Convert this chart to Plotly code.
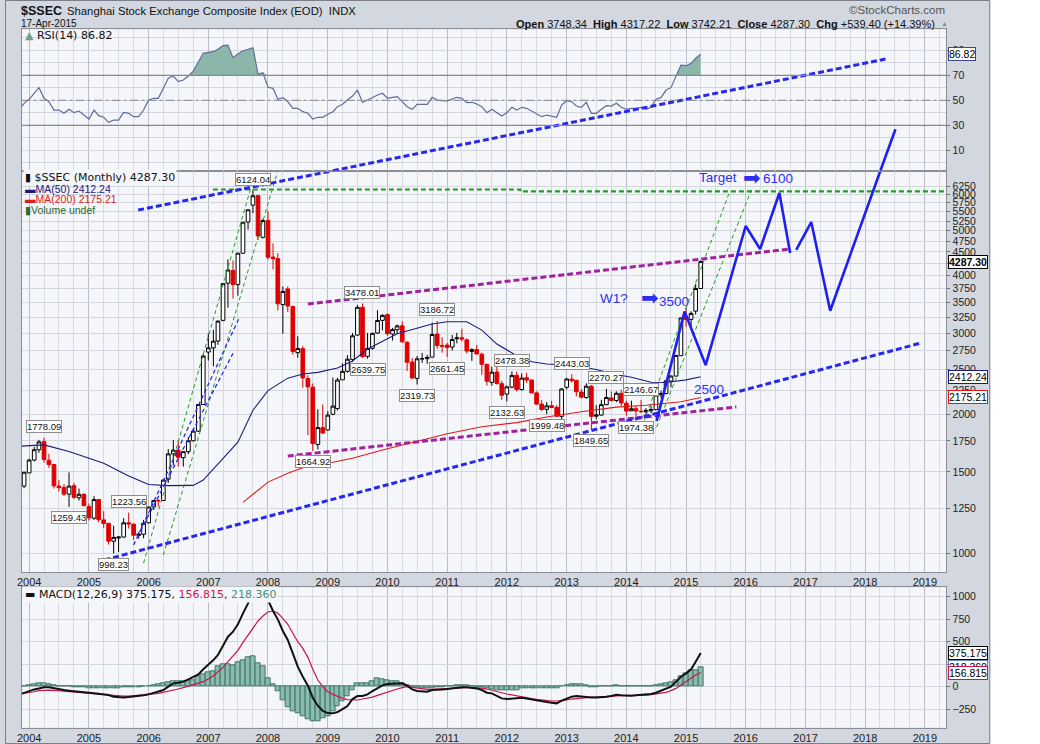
"""
Shanghai Composite ($SSEC) monthly chart in the StockCharts look:
RSI panel on top, candles with MA(50)/MA(200) and hand-drawn trend lines,
MACD panel underneath.
"""

import math

import pandas as pd
import plotly.graph_objects as go

# ---------------------------------------------------------------- data ----
CANDLE_DATES = pd.date_range("2003-12-01", "2015-04-01", freq="MS")
IND_DATES = pd.date_range("2003-11-01", "2015-04-01", freq="MS")

OPEN = [1397,
        1492, 1591, 1675, 1744, 1590, 1556, 1397, 1388, 1342, 1400, 1318, 1340,
        1261, 1190, 1306, 1180, 1160, 1061, 1078, 1083, 1163, 1155, 1092, 1098,
        1163, 1259, 1300, 1300, 1446, 1641, 1672, 1610, 1659, 1752, 1838, 2100,
        2728, 2786, 2883, 3196, 3849, 4102, 3821, 4471, 5224, 5683, 5960, 4840,
        5265, 4385, 4350, 3460, 3740, 3425, 2720, 2775, 2390, 2290, 1720, 1870,
        1849, 2000, 2058, 2375, 2478, 2630, 2970, 3412, 2670, 2780, 3000, 3196,
        3289, 2986, 3050, 3110, 2866, 2595, 2392, 2637, 2640, 2660, 2985, 2820,
        2825, 2798, 2918, 2930, 2900, 2737, 2762, 2700, 2566, 2345, 2470, 2330,
        2212, 2290, 2430, 2263, 2400, 2373, 2225, 2104, 2050, 2087, 2070, 1978,
        2289, 2383, 2370, 2234, 2175, 2300, 1980, 1992, 2098, 2170, 2142, 2220,
        2113, 2034, 2056, 2030, 2025, 2035, 2047, 2203, 2218, 2360, 2420, 2680,
        3258, 3212, 3347, 3748.34]
HIGH = [1500,
        1602, 1700, 1760, 1778.09, 1640, 1560, 1440, 1410, 1496, 1420, 1380, 1350,
        1280, 1328, 1310, 1232, 1160, 1146, 1087, 1190, 1223.56, 1160, 1110, 1180,
        1260, 1304, 1310, 1445, 1680, 1757, 1757, 1660, 1785, 1860, 2100, 2698,
        2995, 3049, 3196, 3848, 4335, 4312, 4472, 5219, 5562, 6124.04, 5980, 5307,
        5523, 4695, 4473, 3786, 3786, 3441, 2952, 2810, 2430, 2333, 2050, 2100,
        2030, 2402, 2400, 2579, 2688, 3000, 3454, 3478.01, 3000, 3006, 3362, 3296,
        3307, 3079, 3132, 3181, 2879, 2649, 2676, 2717, 2692, 3160, 3186.72, 2938,
        2855, 2971, 3003, 3067, 2921, 2780, 2827, 2721, 2574, 2536, 2536, 2363,
        2306, 2478.38, 2476, 2453, 2461, 2377, 2243, 2147, 2126, 2139, 2093, 2277,
        2398, 2443.03, 2370, 2268, 2334, 2315, 2093, 2149, 2270.27, 2242, 2243, 2260,
        2140, 2140, 2086, 2146.67, 2061, 2087, 2209, 2249, 2373, 2430, 2683, 3240,
        3406, 3345, 3835, 4317.22]
LOW = [1383,
       1492, 1580, 1650, 1570, 1530, 1380, 1360, 1330, 1259.43, 1310, 1300, 1262,
       1177, 1180, 1166, 1134, 1043, 998.23, 1005, 1080, 1130, 1067, 1074, 1076,
       1160, 1240, 1261, 1300, 1420, 1550, 1541, 1540, 1640, 1745, 1830, 2097,
       2617, 2541, 2830, 3185, 3404, 3563, 3615, 4460, 5033, 5462, 4778, 4812,
       4330, 4123, 3358, 2990, 3334, 2694, 2653, 2284, 1802, 1664.92, 1678, 1814,
       1844, 1990, 2037, 2375, 2460, 2600, 2960, 2650, 2639.75, 2760, 2990, 3039,
       2963, 2890, 2983, 2860, 2481, 2383, 2319.73, 2586, 2573, 2660, 2774, 2721,
       2661.45, 2750, 2850, 2878, 2710, 2611, 2701, 2437, 2307, 2307, 2319, 2149,
       2132.63, 2276, 2242, 2250, 2338, 2224, 2100, 2030, 1999.48, 2063, 1974, 1949,
       2264, 2344, 2185, 2162, 2161, 1849.65, 1951, 1985, 2092, 2133, 2124, 2080,
       1985, 2033, 1974.38, 2014, 1991, 2011, 2040, 2170, 2210, 2289, 2420, 2680,
       3095, 3050, 3290, 3742.21]
CLOSE = [1497,
         1591, 1675, 1742, 1596, 1556, 1399, 1386, 1342, 1397, 1321, 1341, 1267,
         1192, 1306, 1181, 1159, 1061, 1081, 1083, 1163, 1156, 1093, 1099, 1161,
         1258, 1299, 1298, 1440, 1641, 1672, 1613, 1659, 1752, 1838, 2099, 2675,
         2786, 2881, 3184, 3841, 4110, 3821, 4471, 5219, 5552, 5955, 4872, 5262,
         4383, 4349, 3473, 3693, 3433, 2736, 2776, 2397, 2294, 1729, 1871, 1821,
         1991, 2083, 2373, 2478, 2633, 2959, 3412, 2668, 2779, 2996, 3195, 3277,
         2989, 3052, 3109, 2871, 2592, 2398, 2638, 2639, 2656, 2979, 2820, 2808,
         2791, 2905, 2928, 2912, 2743, 2762, 2702, 2567, 2359, 2468, 2333, 2199,
         2293, 2428, 2263, 2396, 2372, 2225, 2104, 2048, 2086, 2069, 1980, 2269,
         2385, 2366, 2237, 2178, 2301, 1979, 1994, 2098, 2175, 2142, 2221, 2116,
         2033, 2056, 2033, 2026, 2039, 2048, 2202, 2217, 2364, 2420, 2683, 3235,
         3210, 3310, 3748, 4287.30]

MA50_DATES = ["2003-11", "2003-12", "2004-04", "2004-09", "2005-04", "2005-09",
              "2006-01", "2006-05", "2006-10", "2006-12", "2007-03", "2007-07",
              "2007-10", "2008-01", "2008-05", "2008-08", "2008-11", "2009-03",
              "2009-06", "2009-09", "2010-03", "2010-10", "2011-01", "2011-05",
              "2011-08", "2011-11", "2012-03", "2012-06", "2012-09", "2013-01",
              "2013-04", "2013-07", "2013-11", "2014-02", "2014-06", "2014-09",
              "2015-01", "2015-04"]
MA50 = [1705, 1707, 1716, 1660, 1565, 1470, 1408, 1400, 1402, 1440, 1560, 1740,
        2040, 2250, 2395, 2445, 2465, 2520, 2610, 2770, 2990, 3140, 3175, 3175,
        3045, 2840, 2680, 2600, 2570, 2558, 2536, 2500, 2440, 2405, 2346, 2343,
        2375, 2412.24]

MA200_DATES = ["2007-08", "2007-11", "2008-01", "2008-05", "2008-08", "2008-11",
               "2009-03", "2009-06", "2009-12", "2010-07", "2011-01", "2011-08",
               "2012-03", "2012-09", "2013-04", "2013-11", "2014-05", "2014-12",
               "2015-04"]
MA200 = [1288, 1372, 1425, 1490, 1531, 1550, 1580, 1605, 1673, 1746, 1815,
         1879, 1918, 1972, 2025, 2072, 2092, 2129, 2175.21]

RSI = [42.5, 47.6, 50.8, 55.6, 60.1, 51.6, 48.9, 42.2, 42.2, 39.6, 42.8, 40.1, 41.4, 38.2,
       35.0, 42.2, 37.7, 36.4, 32.4, 34.2, 34.2, 40.4, 39.6, 36.9, 36.9, 42.2,
       50.2, 51.6, 51.6, 59.6, 67.6, 69.4, 64.9, 66.2, 69.4, 73.4, 80.1, 87.6,
       88.4, 88.9, 90.8, 93.7, 94.2, 84.1, 87.0, 89.7, 90.8, 92.1, 71.0, 72.1,
       60.4, 59.6, 50.8, 52.1, 48.9, 43.6, 43.6, 40.9, 39.6, 35.0, 36.4, 36.4,
       38.8, 40.9, 44.9, 46.8, 50.2, 53.4, 58.2, 48.4, 50.2, 52.4, 54.2, 55.6,
       51.6, 52.4, 52.9, 48.9, 44.9, 42.8, 46.8, 46.8, 46.8, 52.4, 50.2, 49.7,
       49.5, 51.0, 52.4, 51.6, 48.1, 48.4, 47.0, 44.9, 40.1, 42.8, 40.1, 37.4,
       40.1, 44.4, 42.2, 44.4, 43.6, 41.4, 39.6, 36.9, 38.2, 37.4, 36.4, 46.2,
       49.7, 48.9, 45.4, 44.4, 48.4, 39.6, 39.6, 42.8, 45.7, 45.4, 47.6, 44.4,
       42.8, 43.6, 43.6, 44.4, 42.8, 44.4, 50.8, 52.1, 58.2, 60.1, 69.4, 78.2,
       77.7, 79.6, 83.6, 86.82]

MACD = [-88, -67, -48, -30, -19, -7, -7, -19, -30, -37, -44, -48, -56, -59,
        -67, -74, -78, -85, -93, -111, -119, -119, -115, -111, -107, -96,
        -85, -70, -59, -37, 0, 37, 44, 56, 81, 111, 137, 193,
        241, 296, 352, 452, 556, 611, 693, 815, 926, 1070, 1110, 1050,
        963, 841, 748, 619, 519, 370, 222, 111, 11, -122, -211, -270,
        -293, -296, -281, -248, -215, -137, -104, -104, -85, -48, -11, 15,
        30, 33, 37, 37, 11, -30, -48, -48, -56, -37, -37, -30,
        -26, -19, -11, -7, -7, -11, -19, -37, -67, -74, -104, -130,
        -137, -130, -126, -122, -130, -141, -156, -163, -170, -178, -185, -156,
        -133, -111, -104, -111, -111, -119, -119, -111, -111, -104, -89, -96,
        -100, -100, -96, -93, -89, -81, -67, -44, -22, 0, 56, 111,
        148, 193, 278, 375.175]
SIGNAL = [-80, -74, -67, -56, -44, -37, -37, -41, -44, -48, -52, -59, -63, -70,
          -74, -81, -85, -93, -96, -100, -104, -104, -104, -100, -100, -93,
          -89, -81, -74, -63, -48, -41, -26, -11, 7, 22, 41, 56,
          85, 119, 167, 215, 278, 348, 404, 493, 574, 659, 730, 785,
          830, 841, 819, 759, 693, 593, 500, 426, 326, 193, 74, 0,
          -56, -85, -107, -130, -144, -148, -148, -137, -130, -115, -96, -78,
          -56, -41, -26, -11, 0, -7, -15, -25, -30, -30, -26, -26,
          -22, -19, -15, -11, -11, -11, -11, -15, -26, -37, -52, -67,
          -81, -93, -100, -111, -122, -133, -141, -148, -156, -159, -159, -156,
          -148, -137, -130, -122, -119, -115, -115, -111, -111, -107, -104, -100,
          -100, -100, -96, -96, -93, -89, -81, -74, -63, -44, -19, 19,
          56, 93, 130, 156.815]
HIST = [7, 19, 26, 33, 37, 30, 19, 7, 4, 0, -4, -7, -11,
        -15, -19, -19, -19, -19, -19, -15, -11, -11, -7, -4, 0,
        7, 15, 22, 37, 48, 59, 63, 56, 56, 74, 111, 137,
        159, 174, 230, 248, 248, 241, 270, 296, 322, 341, 259, 222,
        93, 26, -56, -148, -233, -278, -296, -326, -363, -381, -389, -352,
        -333, -278, -222, -167, -111, -37, 37, 37, 37, 56, 93, 85,
        74, 56, 56, 37, 11, 0, -4, -15, -19, -15, -7, -7,
        0, 7, 15, 15, 11, 4, -4, -11, -22, -30, -37, -41,
        -44, -37, -37, -22, -19, -19, -19, -15, -15, -19, -22, 4,
        15, 26, 26, 22, 15, -4, -4, 4, 4, 7, 15, 7,
        4, 4, 4, 4, 4, 7, 15, 22, 33, 44, 74, 119,
        148, 178, 185, 218.36]

# labelled pivots (date of the candle, price)
HIGH_LABELS = [("2004-04-01", 1778.09), ("2005-09-01", 1223.56), ("2007-10-01", 6124.04),
               ("2009-08-01", 3478.01), ("2010-11-01", 3186.72), ("2012-02-01", 2478.38),
               ("2013-02-01", 2443.03), ("2013-09-01", 2270.27), ("2014-04-01", 2146.67)]
LOW_LABELS = [("2004-09-01", 1259.43), ("2005-06-01", 998.23), ("2008-10-01", 1664.92),
              ("2009-09-01", 2639.75), ("2010-07-01", 2319.73), ("2011-01-01", 2661.45),
              ("2012-01-01", 2132.63), ("2012-09-01", 1999.48), ("2013-06-01", 1849.65),
              ("2014-03-01", 1974.38)]

# hand drawn lines on the price panel (dates, prices)
LOWER_TREND = (["2005-04-05", "2018-12-01"], [966, 2850])
UPPER_TREND_PRICE = (["2005-10-29", "2009-02-01"], [5546, 6750])
UPPER_TREND_RSI = (["2009-02-01", "2018-05-05"], [-6.3, 83.0])
TARGET_LINE = (["2007-01-29", "2012-03-23", "2012-03-23", "2019-05-13"], [6145, 6145, 6085, 6085])
PURPLE_LINES = [(["2008-09-01", "2016-09-24"], [3468, 4564]),
                (["2008-05-01", "2015-11-05"], [1623, 2074])]
GREEN_CHANNELS = [(["2005-12-01", "2007-09-23"], [951, 6285]),
                  (["2006-04-01", "2008-02-28"], [990, 6707]),
                  (["2014-04-05", "2015-09-25"], [1876, 6077]),
                  (["2014-07-05", "2016-02-05"], [1876, 6130])]
BLUE_THIN = [(["2005-10-01", "2007-07-05"], [1041, 3214]),
             (["2005-10-25", "2007-06-01"], [1085, 2712])]
WAVE_A = (["2014-07-05", "2014-12-23", "2015-05-01", "2016-01-01", "2016-03-29",
           "2016-07-25", "2016-09-29"], [1933, 3340, 2557, 5121, 4564, 6038, 4474])
WAVE_B = (["2016-11-05", "2017-02-05", "2017-06-01", "2018-04-04"], [4543, 5224, 3354, 6750])
WAVE_RSI = (["2018-04-04", "2018-07-05"], [-6.3, 26.8])

TEXT_NOTES = [("Target", "2015-07-14", 6540), ("6100", "2016-07-17", 6507),
              ("W1?", "2013-10-17", 3573), ("3500", "2014-10-17", 3521),
              ("2500", "2015-05-23", 2258)]
ARROWS = [("2016-02-11", 6507), ("2014-05-23", 3573)]

PRICE_TICKS = [1000, 1250, 1500, 1750, 2000, 2250, 2500, 2750, 3000, 3250, 3500,
               3750, 4000, 4250, 4500, 4750, 5000, 5250, 5500, 5750, 6000, 6250]
RSI_TICKS = [10, 30, 50, 70, 90]
MACD_TICKS = [-250, 0, 250, 500, 750, 1000]

# ---------------------------------------------------------------- style ---
W, H = 1040, 744
FRAME = "#d3d7df"
PLOT_BG = "#f5f6fa"
BORDER = "#8a8d96"
GRID_MAJOR = "#babdc7"
GRID_MINOR = "#d9dbe2"
GRID_Y = "#d3d6de"
BLUE = "#2727ee"
PURPLE = "#a0229f"
GREEN = "#1e9e1e"
TXT_BLUE = "#2e2ef2"
SANS = "Liberation Sans"
VERD = "DejaVu Sans"

X_RANGE = ["2003-11-16", "2019-05-13"]
X_DOM = [16.7 / W, 946 / W]
RSI_DOM = [1 - 170.7 / H, 1 - 29.3 / H]
PRICE_DOM = [1 - 572 / H, 1 - 170.7 / H]
MACD_DOM = [1 - 727.7 / H, 1 - 587.3 / H]

fig = go.Figure()


def line(xs, ys, color, width, dash=None, xa="x2", ya="y2"):
    fig.add_trace(go.Scatter(x=xs, y=ys, mode="lines", xaxis=xa, yaxis=ya,
                             line=dict(color=color, width=width, dash=dash),
                             hoverinfo="skip", showlegend=False))


# RSI panel
fig.add_trace(go.Scatter(x=IND_DATES, y=[70] * len(RSI), mode="lines", xaxis="x3", yaxis="y3",
                         line=dict(width=0), hoverinfo="skip", showlegend=False))
fig.add_trace(go.Scatter(x=IND_DATES, y=[max(v, 70) for v in RSI], mode="lines",
                         xaxis="x3", yaxis="y3", fill="tonexty", fillcolor="#8db6aa",
                         line=dict(width=0), hoverinfo="skip", showlegend=False))
line(IND_DATES, RSI, "#5f6c9c", 1.2, xa="x3", ya="y3")

# price panel
line(MA50_DATES, MA50, "#1b1b7d", 1.1)
line(MA200_DATES, MA200, "#e31a1a", 1.1)
fig.add_trace(go.Candlestick(
    x=CANDLE_DATES, open=OPEN, high=HIGH, low=LOW, close=CLOSE,
    xaxis="x2", yaxis="y2", whiskerwidth=0, hoverinfo="skip", showlegend=False,
    increasing=dict(line=dict(color="#000000", width=1), fillcolor="#ffffff"),
    decreasing=dict(line=dict(color="#e00000", width=1), fillcolor="#e00000"),
))

for xs, ys in GREEN_CHANNELS:
    line(xs, ys, GREEN, 1, "4px,3px")
for xs, ys in BLUE_THIN:
    line(xs, ys, BLUE, 1.3, "4px,3px")
for xs, ys in PURPLE_LINES:
    line(xs, ys, PURPLE, 3, "6px,3px")
line(*TARGET_LINE, GREEN, 2.2, "5px,3px")
line(*LOWER_TREND, BLUE, 3, "6px,3px")
line(*UPPER_TREND_PRICE, BLUE, 3, "6px,3px")
line(*UPPER_TREND_RSI, BLUE, 3, "6px,3px", xa="x3", ya="y3")
line(*WAVE_A, "#1f1fef", 2.6)
line(*WAVE_B, "#1f1fef", 2.6)
line(*WAVE_RSI, "#1f1fef", 2.6, xa="x3", ya="y3")

# MACD panel
fig.add_trace(go.Bar(x=CANDLE_DATES, y=HIST, xaxis="x", yaxis="y", width=30.4 * 86400000,
                     marker=dict(color="#8bbaae", line=dict(color="#3f7767", width=1)),
                     hoverinfo="skip", showlegend=False))
line(IND_DATES, SIGNAL, "#c8154b", 1.2, xa="x", ya="y")
line(IND_DATES, MACD, "#111111", 2, xa="x", ya="y")

# ---------------------------------------------------------------- axes ----


def xaxis(anchor, labels):
    return dict(type="date", range=X_RANGE, domain=X_DOM, anchor=anchor,
                dtick="M12", tick0="2004-01-01", tickformat="%Y",
                showgrid=True, gridcolor=GRID_MAJOR, zeroline=False,
                minor=dict(dtick="M3", showgrid=True, gridcolor=GRID_MINOR),
                showline=True, linecolor=BORDER, mirror=True, ticks="",
                showticklabels=labels, tickfont=dict(family=SANS, size=11, color="#222"),
                rangeslider=dict(visible=False))


def yaxis(dom, anchor, **kw):
    base = dict(domain=dom, anchor=anchor, side="right", showgrid=True, gridcolor=GRID_Y,
                zeroline=False, showline=True, linecolor=BORDER, mirror=True,
                ticks="outside", ticklen=3, tickcolor="#6d7079",
                tickfont=dict(family=SANS, size=10.5, color="#222"))
    base.update(kw)
    return base


fig.update_layout(
    width=W, height=H, autosize=False,
    margin=dict(l=0, r=0, t=0, b=0, pad=0),
    paper_bgcolor=FRAME, plot_bgcolor=PLOT_BG,
    font=dict(family=SANS, color="#111"),
    showlegend=False, boxgap=0.2, boxgroupgap=0, bargap=0,
    xaxis=xaxis("y", True),
    xaxis2=xaxis("y2", True),
    xaxis3=xaxis("y3", False),
    yaxis=yaxis(MACD_DOM, "x", range=[-455.6, 1104.4], tickvals=MACD_TICKS),
    yaxis2=yaxis(PRICE_DOM, "x2", type="log", range=[math.log10(909.6), math.log10(6750)],
                 tickvals=PRICE_TICKS),
    yaxis3=yaxis(RSI_DOM, "x3", range=[-6.32, 106.8], tickvals=RSI_TICKS,
                 minor=dict(tickvals=[0, 20, 40, 60, 80, 100], showgrid=True, gridcolor=GRID_Y)),
)
fig.update_layout(xaxis2_matches="x", xaxis3_matches="x")

# RSI guide lines, frame and white strip at the right
shapes = [
    dict(type="line", xref="x3 domain", yref="y3", x0=0, x1=1, y0=70, y1=70,
         line=dict(color="#858892", width=1.2)),
    dict(type="line", xref="x3 domain", yref="y3", x0=0, x1=1, y0=30, y1=30,
         line=dict(color="#858892", width=1.2)),
    dict(type="line", xref="x3 domain", yref="y3", x0=0, x1=1, y0=50, y1=50,
         line=dict(color="#858892", width=1, dash="dashdot")),
    dict(type="rect", xref="paper", yref="paper", x0=990 / W, x1=1, y0=0, y1=1,
         fillcolor="white", line=dict(width=0), layer="below"),
    dict(type="rect", xref="paper", yref="paper", x0=0.5 / W, x1=989.5 / W, y0=0.5 / H,
         y1=1 - 0.5 / H, line=dict(color="#7b7f89", width=1), layer="below"),
]
fig.update_layout(shapes=shapes)

# ----------------------------------------------------------- annotations --
ann = []


def paper_text(px, py, text, size, color="#111", family=SANS, anchor="left", **kw):
    ann.append(dict(xref="paper", yref="paper", x=px / W, y=1 - py / H, text=text,
                    showarrow=False, xanchor=anchor, yanchor="middle",
                    font=dict(family=family, size=size, color=color), **kw))


# header
paper_text(14, 11, "<b>$SSEC</b>", 12.5)
paper_text(60, 11, "Shanghai Stock Exchange Composite Index (EOD)  INDX", 11.3)
paper_text(14, 24, "17-Apr-2015", 10)
paper_text(947, 10, "©StockCharts.com", 11.5, color="#555", anchor="right")
paper_text(936, 23.5, "<b>Open</b> 3748.34  <b>High</b> 4317.22  <b>Low</b> 3742.21  "
                      "<b>Close</b> 4287.30  <b>Chg</b> +539.40 (+14.39%)", 11, anchor="right")
paper_text(939, 24, "▲", 7, color="#888")

# panel legends
paper_text(18, 36, "<span style='color:#6f9f93'>▲</span> RSI(14) 86.82", 11, family=VERD)
paper_text(18, 177.5, "▮ $SSEC (Monthly) 4287.30", 11, family=VERD, bgcolor=PLOT_BG)
paper_text(18, 189, "▬MA(50) 2412.24", 10.5, color="#1b1b7d")
paper_text(18, 199.5, "▬MA(200) 2175.21", 10.5, color="#e31a1a")
paper_text(18, 210, "▮Volume undef", 10.5, color="#2e6b2e")
paper_text(18, 594, "▬ MACD(12,26,9) 375.175, <span style='color:#c8154b'>156.815</span>, "
                    "<span style='color:#3f8f7f'>218.360</span>", 11, family=VERD,
           bgcolor=PLOT_BG)

# pivot labels
for d, v in HIGH_LABELS + LOW_LABELS:
    ann.append(dict(xref="x2", yref="y2", x=d, y=math.log10(v), text=f"{v:.2f}",
                    showarrow=False, yshift=11 if (d, v) in HIGH_LABELS else -11,
                    font=dict(family=SANS, size=9.5, color="#111"), bgcolor="white",
                    bordercolor="#8e8e8e", borderwidth=1, borderpad=0))

# drawn notes
for text, d, v in TEXT_NOTES:
    ann.append(dict(xref="x2", yref="y2", x=d, y=math.log10(v), text=text, showarrow=False,
                    font=dict(family=SANS, size=13.5, color=TXT_BLUE)))
for d, v in ARROWS:
    ann.append(dict(xref="x2", yref="y2", x=d, y=math.log10(v), text="➡", showarrow=False,
                    font=dict(family=VERD, size=21, color=TXT_BLUE)))

# last-value tags on the right axes
TAGS = [("y3", 86.82, "86.82", "#3c4a8c", False),
        ("y2", 2412.24, "2412.24", "#1b1b7d", False),
        ("y2", 2175.21, "2175.21", "#e31a1a", False),
        ("y2", 4287.30, "4287.30", "#000000", True),
        ("y", 375.175, "375.175", "#000000", False),
        ("y", 218.36, "218.360", "#6a82c8", False),
        ("y", 156.815, "156.815", "#c8154b", False)]
for ya, v, text, col, bold in TAGS:
    ann.append(dict(xref="paper", yref=ya, x=948 / W, y=math.log10(v) if ya == "y2" else v,
                    text=f"<b>{text}</b>" if bold else text, showarrow=False, xanchor="left",
                    font=dict(family=SANS, size=10.5, color="#000"), bgcolor="white",
                    bordercolor=col, borderwidth=1, borderpad=0))

fig.update_layout(annotations=ann)

fig.write_html("out.html", config={"displayModeBar": False},
               post_script="document.body.style.margin='0px';")
